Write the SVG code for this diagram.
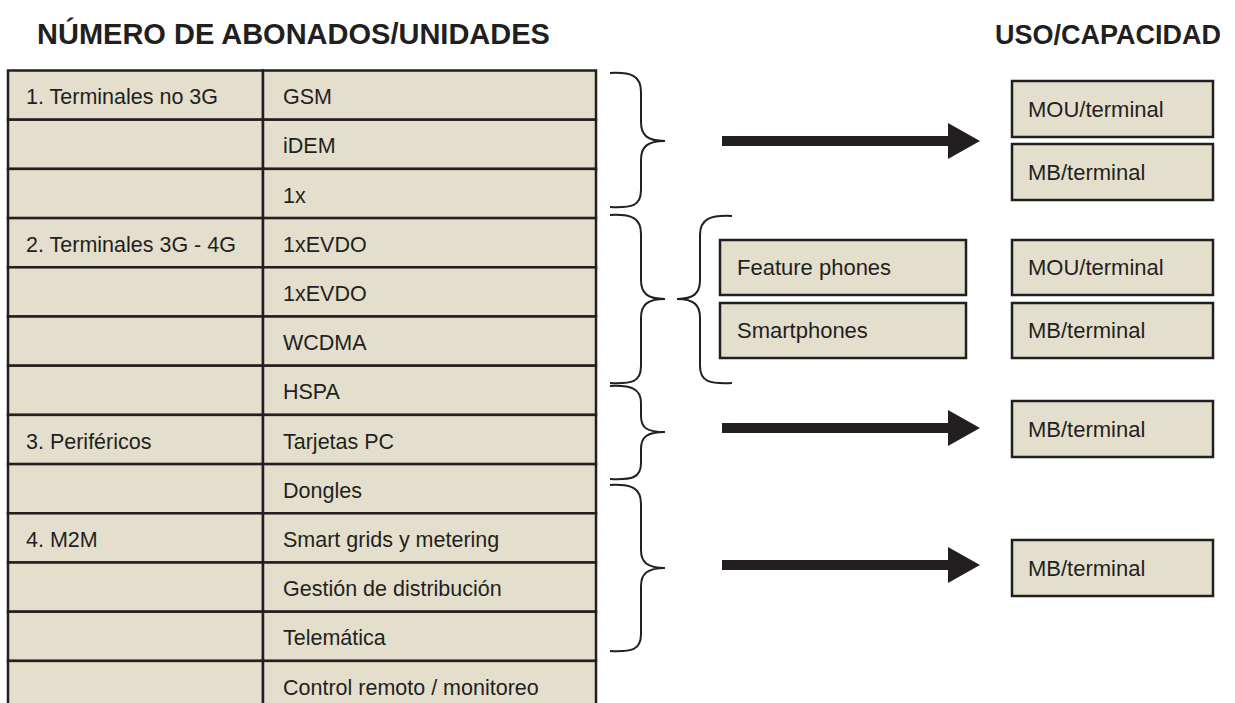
<svg xmlns="http://www.w3.org/2000/svg" width="1235" height="703" viewBox="0 0 1235 703">
<style>
.cell{fill:#e3dfcc;stroke:#231f20;stroke-width:2.5}
.box{fill:#e3dfcc;stroke:#231f20;stroke-width:2.5}
.t{font-family:"Liberation Sans",Arial,sans-serif;font-size:21.5px;fill:#231f20}
.bt{font-size:22px}
.h{font-family:"Liberation Sans",Arial,sans-serif;font-size:29px;font-weight:bold;fill:#231f20}
.brace{fill:none;stroke:#231f20;stroke-width:2}
.arrow{stroke:#231f20;stroke-width:10;marker-end:url(#ah)}
</style>
<defs>
<marker id="ah" markerUnits="userSpaceOnUse" markerWidth="32" markerHeight="36" refX="0" refY="18" orient="auto" viewBox="0 0 32 36"><path d="M0,0 L32,18 L0,36 Z" fill="#231f20"/></marker>
</defs>
<rect width="1235" height="703" fill="#ffffff"/>
<g id="headers">
<text class="h" x="37" y="44">NÚMERO DE ABONADOS/UNIDADES</text>
<text class="h" x="995" y="44" style="font-size:27px">USO/CAPACIDAD</text>
</g>
<g id="table">
<g id="row-gsm"><rect class="cell" x="8" y="70.5" width="255" height="49.2"/><rect class="cell" x="263" y="70.5" width="333" height="49.2"/><text class="t" x="26" y="104">1. Terminales no 3G</text><text class="t" x="283" y="104">GSM</text></g>
<g id="row-idem"><rect class="cell" x="8" y="119.7" width="255" height="49.2"/><rect class="cell" x="263" y="119.7" width="333" height="49.2"/><text class="t" x="283" y="153">iDEM</text></g>
<g id="row-1x"><rect class="cell" x="8" y="168.9" width="255" height="49.2"/><rect class="cell" x="263" y="168.9" width="333" height="49.2"/><text class="t" x="283" y="202.5">1x</text></g>
<g id="row-1xevdo-a"><rect class="cell" x="8" y="218.1" width="255" height="49.2"/><rect class="cell" x="263" y="218.1" width="333" height="49.2"/><text class="t" x="26" y="252">2. Terminales 3G - 4G</text><text class="t" x="283" y="252">1xEVDO</text></g>
<g id="row-1xevdo-b"><rect class="cell" x="8" y="267.3" width="255" height="49.2"/><rect class="cell" x="263" y="267.3" width="333" height="49.2"/><text class="t" x="283" y="301">1xEVDO</text></g>
<g id="row-wcdma"><rect class="cell" x="8" y="316.5" width="255" height="49.2"/><rect class="cell" x="263" y="316.5" width="333" height="49.2"/><text class="t" x="283" y="350">WCDMA</text></g>
<g id="row-hspa"><rect class="cell" x="8" y="365.7" width="255" height="49.2"/><rect class="cell" x="263" y="365.7" width="333" height="49.2"/><text class="t" x="283" y="399">HSPA</text></g>
<g id="row-tarjetas"><rect class="cell" x="8" y="414.9" width="255" height="49.2"/><rect class="cell" x="263" y="414.9" width="333" height="49.2"/><text class="t" x="26" y="448.5">3. Periféricos</text><text class="t" x="283" y="448.5">Tarjetas PC</text></g>
<g id="row-dongles"><rect class="cell" x="8" y="464.1" width="255" height="49.2"/><rect class="cell" x="263" y="464.1" width="333" height="49.2"/><text class="t" x="283" y="497.7">Dongles</text></g>
<g id="row-smart"><rect class="cell" x="8" y="513.3" width="255" height="49.2"/><rect class="cell" x="263" y="513.3" width="333" height="49.2"/><text class="t" x="26" y="547">4. M2M</text><text class="t" x="283" y="547">Smart grids y metering</text></g>
<g id="row-gestion"><rect class="cell" x="8" y="562.5" width="255" height="49.2"/><rect class="cell" x="263" y="562.5" width="333" height="49.2"/><text class="t" x="283" y="596">Gestión de distribución</text></g>
<g id="row-telematica"><rect class="cell" x="8" y="611.7" width="255" height="49.2"/><rect class="cell" x="263" y="611.7" width="333" height="49.2"/><text class="t" x="283" y="645">Telemática</text></g>
<g id="row-control"><rect class="cell" x="8" y="660.9" width="255" height="49.2"/><rect class="cell" x="263" y="660.9" width="333" height="49.2"/><text class="t" x="283" y="694.5">Control remoto / monitoreo</text></g>
</g>
<g id="feature-phones"><rect class="box" x="720" y="240" width="246" height="55"/><text class="t bt" x="737" y="275">Feature phones</text></g>
<g id="smartphones"><rect class="box" x="720" y="303" width="246" height="55"/><text class="t bt" x="737" y="338">Smartphones</text></g>
<g id="mou-1"><rect class="box" x="1012" y="81" width="201" height="56"/><text class="t bt" x="1028" y="117">MOU/terminal</text></g>
<g id="mb-1"><rect class="box" x="1012" y="144" width="201" height="56"/><text class="t bt" x="1028" y="180">MB/terminal</text></g>
<g id="mou-2"><rect class="box" x="1012" y="240" width="201" height="55"/><text class="t bt" x="1028" y="275">MOU/terminal</text></g>
<g id="mb-2"><rect class="box" x="1012" y="303" width="201" height="55"/><text class="t bt" x="1028" y="338">MB/terminal</text></g>
<g id="mb-3"><rect class="box" x="1012" y="401" width="201" height="56"/><text class="t bt" x="1028" y="437">MB/terminal</text></g>
<g id="mb-4"><rect class="box" x="1012" y="540" width="201" height="56"/><text class="t bt" x="1028" y="576">MB/terminal</text></g>
<g id="connectors">
<path class="brace" d="M610,73 C632,72 641,76 641,92 L641,122 C641,135 647,141 665,141 C647,141 641,147 641,160 L641,190 C641,206 632,208 610,207"/>
<path class="brace" d="M610,215 C632,214 641,218 641,234 L641,280 C641,293 647,299 665,299 C647,299 641,305 641,318 L641,366 C641,382 632,384 610,383"/>
<path class="brace" d="M732,216 C710,215 700,219 700,235 L700,280 C700,293 694,299 677,299 C694,299 700,305 700,318 L700,366 C700,382 710,384 732,383"/>
<path class="brace" d="M610,386 C632,385 641,389 641,403 L641,416 C641,428 647,432 665,432 C647,432 641,437 641,449 L641,463 C641,478 632,480 610,479"/>
<path class="brace" d="M610,485 C632,484 641,488 641,504 L641,550 C641,562 647,568 665,568 C647,568 641,574 641,586 L641,634 C641,650 632,652 610,651"/>
<line class="arrow" x1="722" y1="141" x2="948" y2="141"/>
<line class="arrow" x1="722" y1="428" x2="948" y2="428"/>
<line class="arrow" x1="722" y1="565" x2="948" y2="565"/>
</g>
</svg>
